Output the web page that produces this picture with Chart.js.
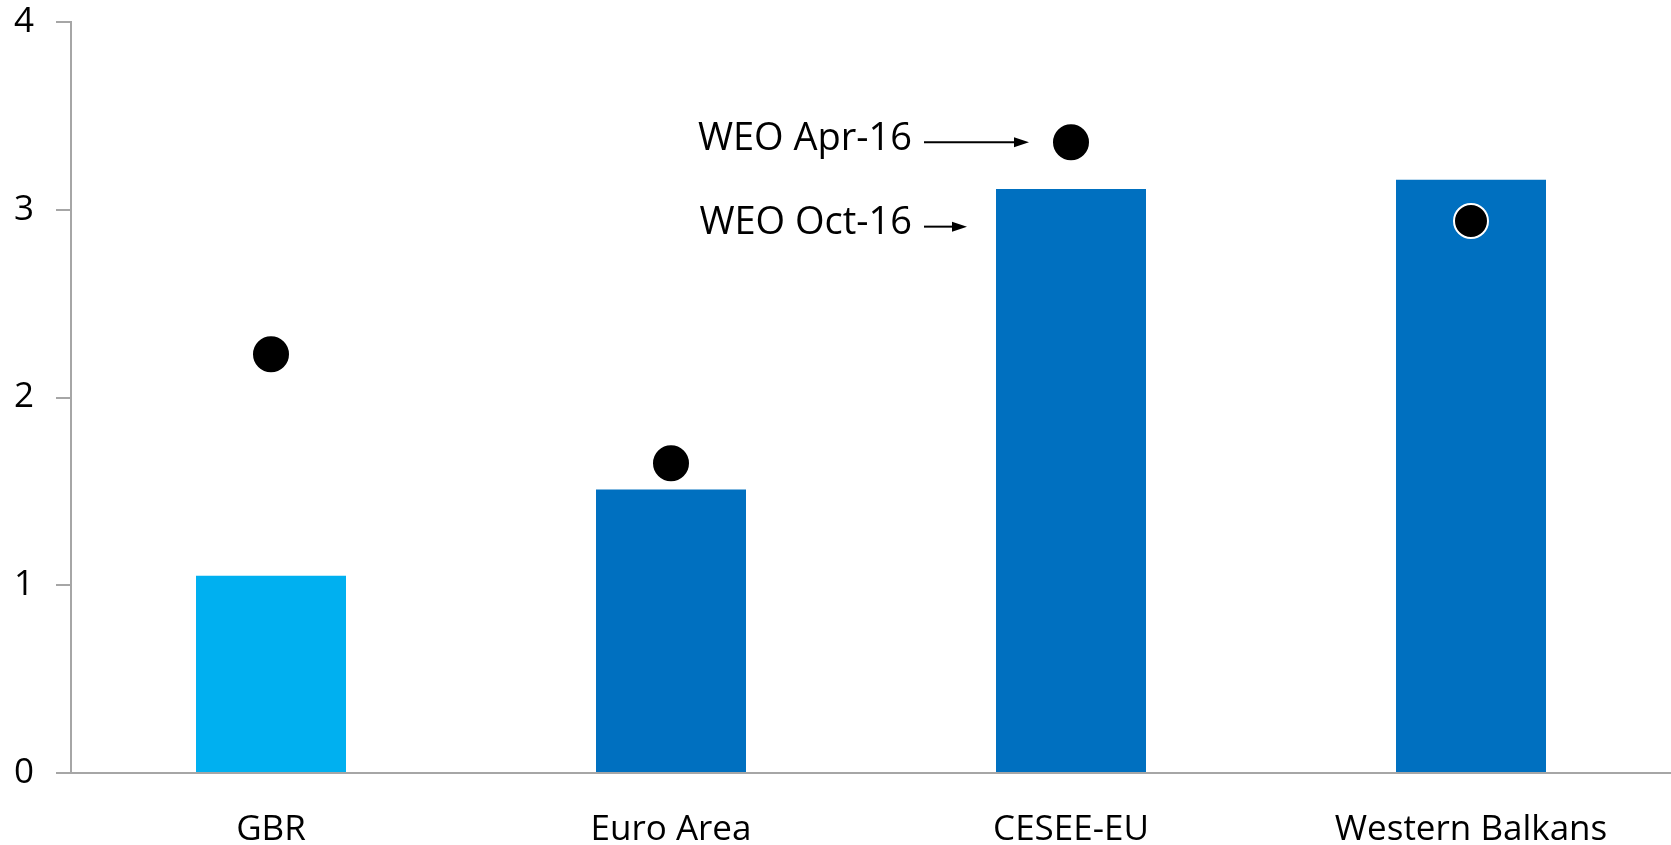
<!DOCTYPE html>
<html>
<head>
    <title>WEO growth</title>
    <script src="https://cdn.jsdelivr.net/npm/chart.js"></script>
    <style>
        body { margin: 0; background: #fff; }
        #wrap { width: 1671px; height: 845px; }
    </style>
</head>
<body>
<div id="wrap"><canvas id="weoChart"></canvas></div>
<script>
    const categories = ["GBR", "Euro Area", "CESEE-EU", "Western Balkans"];
    const weoOct16 = [1.05, 1.51, 3.11, 3.16];   // bars
    const weoApr16 = [2.23, 1.65, 3.36, 2.94];   // dots
    const barColors = ["#00B0F0", "#0070C0", "#0070C0", "#0070C0"];
    const dotBorders = ["#000000", "#000000", "#000000", "#FFFFFF"];
    const yTicks = [0, 1, 2, 3, 4];

    // callouts next to the CESEE-EU column: label, value the arrow sits at, arrow end offset from column centre
    const callouts = [
        { text: "WEO Apr-16", value: weoApr16[2], endOffset: -42 },
        { text: "WEO Oct-16", value: 2.91, endOffset: -104 }
    ];

    const grey = "#A6A6A6";
    const font = "'Open Sans', 'Noto Sans', sans-serif";

    const calloutPlugin = {
        id: "callouts",
        afterDatasetsDraw(chart) {
            const ctx = chart.ctx;
            const xs = chart.scales.x, ys = chart.scales.y;
            const cx = xs.getPixelForValue(2);
            ctx.save();
            ctx.fillStyle = "#000";
            ctx.strokeStyle = "#000";
            ctx.lineWidth = 2;
            ctx.font = "38px " + font;
            ctx.textAlign = "right";
            ctx.textBaseline = "middle";
            callouts.forEach(c => {
                const y = ys.getPixelForValue(c.value);
                const x0 = cx - 147, x1 = cx + c.endOffset;
                ctx.fillText(c.text, cx - 159, y - 3);
                ctx.beginPath();
                ctx.moveTo(x0, y);
                ctx.lineTo(x1 - 12, y);
                ctx.stroke();
                ctx.beginPath();
                ctx.moveTo(x1, y);
                ctx.lineTo(x1 - 15, y - 5);
                ctx.lineTo(x1 - 15, y + 5);
                ctx.closePath();
                ctx.fill();
            });
            ctx.restore();
        }
    };

    new Chart(document.getElementById("weoChart"), {
        data: {
            labels: categories,
            datasets: [
                {
                    type: "line",
                    label: "WEO Apr-16",
                    data: weoApr16,
                    showLine: false,
                    pointRadius: 17,
                    pointHoverRadius: 17,
                    pointBackgroundColor: "#000",
                    pointBorderColor: dotBorders,
                    pointBorderWidth: 2,
                    order: 1
                },
                {
                    type: "bar",
                    label: "WEO Oct-16",
                    data: weoOct16,
                    backgroundColor: barColors,
                    categoryPercentage: 1,
                    barPercentage: 0.375,
                    order: 2
                }
            ]
        },
        options: {
            responsive: true,
            maintainAspectRatio: false,
            animation: false,
            layout: { padding: 0, autoPadding: false },
            plugins: { legend: { display: false }, tooltip: { enabled: false } },
            scales: {
                x: {
                    grid: { display: false },
                    border: { color: grey, width: 2 },
                    ticks: { color: "#000", font: { family: font, size: 35 }, padding: 28 },
                    afterFit(s) { s.height = 72; s.paddingLeft = 0; s.paddingRight = 0; }
                },
                y: {
                    min: 0,
                    max: 4,
                    afterBuildTicks(s) { s.ticks = yTicks.map(v => ({ value: v })); },
                    grid: { drawOnChartArea: false, drawTicks: true, tickLength: 15, color: grey, lineWidth: 2 },
                    border: { color: grey, width: 2 },
                    ticks: { color: "#000", font: { family: font, size: 35 }, padding: 22 },
                    afterFit(s) { s.width = 71; s.paddingTop = 22; s.paddingBottom = 0; }
                }
            }
        },
        plugins: [calloutPlugin]
    });
</script>
</body>
</html>
